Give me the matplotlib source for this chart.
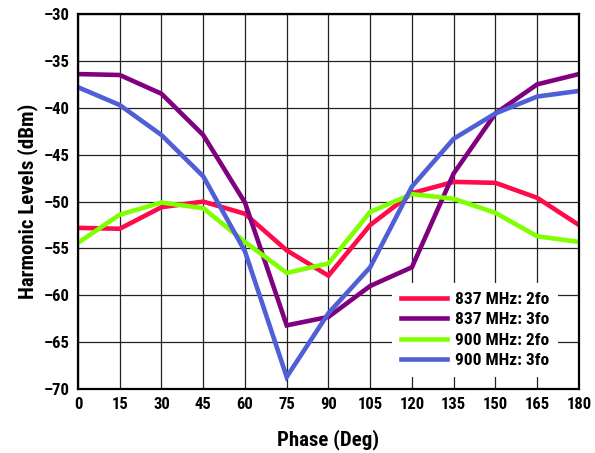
import numpy as np
import matplotlib
matplotlib.use("Agg")
import matplotlib.pyplot as plt
from matplotlib.ticker import FuncFormatter

phase = [0, 15, 30, 45, 60, 75, 90, 105, 120, 135, 150, 165, 180]
f837_2fo = [-52.8, -52.9, -50.6, -50.0, -51.3, -55.2, -57.9, -52.5, -49.1, -47.9, -48.0, -49.6, -52.5]
f837_3fo = [-36.4, -36.5, -38.5, -42.9, -50.1, -63.2, -62.3, -59.0, -57.0, -47.0, -40.6, -37.5, -36.4]
f900_2fo = [-54.4, -51.4, -50.1, -50.7, -54.3, -57.6, -56.6, -51.1, -49.2, -49.7, -51.2, -53.7, -54.3]
f900_3fo = [-37.8, -39.7, -42.9, -47.3, -55.3, -68.7, -61.9, -57.0, -48.4, -43.3, -40.6, -38.8, -38.2]
labels = ["837 MHz: 2fo", "837 MHz: 3fo", "900 MHz: 2fo", "900 MHz: 3fo"]
colors = ["#ff0a4a", "#800080", "#80ff00", "#4f5fd6"]

plt.rcParams['font.family'] = ['Roboto Condensed', 'DejaVu Sans']
plt.rcParams['font.weight'] = 'bold'
plt.rcParams['axes.labelweight'] = 'bold'

fig = plt.figure(figsize=(5.95, 4.53), dpi=100)
ax = fig.add_axes([0.131, 0.141, 0.842, 0.828])

for ys, lab, c in zip([f837_2fo, f837_3fo, f900_2fo, f900_3fo], labels, colors):
    ax.plot(phase, ys, color=c, lw=3.3, label=lab, solid_joinstyle="miter")

ax.set_xlim(0, 180)
ax.set_ylim(-70, -30)
ax.set_xticks(phase)
ax.set_yticks(np.arange(-70, -29, 5))
ax.yaxis.set_major_formatter(FuncFormatter(lambda v, p: f"{v:.0f}".replace("-", "\u2013")))
ax.grid(True, color="#222222", lw=0.9)
ax.set_axisbelow(True)
ax.tick_params(length=0, labelsize=12, pad=6)
for s in ax.spines.values():
    s.set_linewidth(1.6)

ax.set_xlabel("Phase (Deg)", fontsize=15, labelpad=12)
ax.set_ylabel("Harmonic Levels (dBm)", fontsize=15, labelpad=4)

leg = ax.legend(loc="lower right", bbox_to_anchor=(0.975, 0.01), fontsize=12.5,
                frameon=True, fancybox=False, edgecolor="none", facecolor="white",
                framealpha=1, handlelength=2.65, labelspacing=0.3, handletextpad=0.46,
                borderpad=0.5)

fig.savefig("out.png", dpi=100)
